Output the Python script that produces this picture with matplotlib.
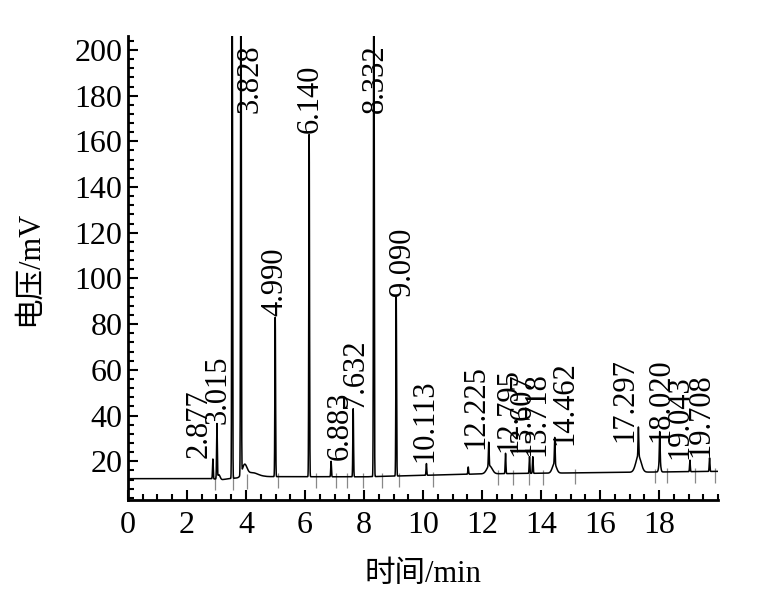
import numpy as np
import matplotlib
matplotlib.use("Agg")
import matplotlib.pyplot as plt
from matplotlib.ticker import MultipleLocator

# peak table (retention time / apex mV)
peak_t = [2.877, 3.015, 3.53, 3.828, 4.990, 6.140, 6.883, 7.632, 8.332, 9.090,
          10.113, 11.53, 12.225, 12.795, 13.607, 13.718, 14.462, 17.297, 18.020,
          19.043, 19.708]
peak_h = [21, 36, 260, 260, 83, 163, 20, 43, 260, 92,
          19, 17.5, 25, 23.5, 22, 22, 26.5, 28, 28, 20.5, 21.5]
labels = ["2.877", "3.015", "", "3.828", "4.990", "6.140", "6.883", "7.632", "8.332",
          "9.090", "10.113", "", "12.225", "12.795", "13.607", "13.718", "14.462",
          "17.297", "18.020", "19.043", "19.708"]

# broad humps under some peaks
hump_t = [3.08, 3.95, 4.2, 12.25, 14.45, 17.3, 18.02]
hump_h = [2.0, 5.0, 2.0, 3.5, 4.0, 7.0, 5.0]
hump_w = [0.04, 0.08, 0.2, 0.09, 0.07, 0.09, 0.03]

# baseline drift
base_t = [0, 2.8, 3.2, 3.5, 4.6, 8.0, 12.0, 20.0]
base_v = [12.4, 12.4, 12.0, 12.5, 13.3, 13.2, 14.5, 15.6]

# integration event marks on the baseline
mark_t = [2.95, 3.56, 4.03, 5.07, 6.36, 7.06, 7.42, 7.97, 8.62, 9.2, 10.35,
          12.55, 13.05, 13.6, 14.07, 15.15, 17.86, 18.27, 19.22, 19.9]

# label shifts (layout only)
label_dx = [-0.45, 0.05, 0, 0.3, 0, 0.03, 0.3, 0.07, 0.04, 0.22, -0.05, 0, -0.45,
            0.1, -0.25, 0.15, 0.35, -0.45, 0.03, -0.35, -0.3]

plt.rcParams["font.family"] = ["Liberation Serif", "Noto Sans CJK SC"]
plt.rcParams["font.size"] = 22

x = np.linspace(0, 20, 20001)
base = np.interp(x, base_t, base_v)
y = base.copy()
for t, h, w in zip(hump_t, hump_h, hump_w):
    y += h * np.exp(-0.5 * ((x - t) / w) ** 2)
for t, h in zip(peak_t, peak_h):
    b = np.interp(t, base_t, base_v)
    y += (h - b) * np.exp(-0.5 * ((x - t) / 0.012) ** 2)

fig = plt.figure(figsize=(7.64, 5.94), dpi=100)
ax = fig.add_axes([0.1675, 0.158, 0.7725, 0.781])

ax.vlines(mark_t, np.interp(mark_t, base_t, base_v) - 5,
          np.interp(mark_t, base_t, base_v) + 1.5, color="#888888", lw=0.9)
ax.plot(x, y, color="black", lw=1.1)

for t, h, lab, dx in zip(peak_t, peak_h, labels, label_dx):
    if lab:
        ax.text(t + dx, min(h, 172) + 0.5, lab, rotation=90, ha="center", va="bottom",
                fontsize=22)

ax.set_xlim(0, 20)
ax.set_ylim(3, 206)
ax.set_xticks(range(0, 19, 2))
ax.set_yticks(range(20, 201, 20))
ax.xaxis.set_minor_locator(MultipleLocator(0.5))
ax.yaxis.set_minor_locator(MultipleLocator(4))
ax.tick_params(which="both", direction="in", width=1.5, labelsize=23)
ax.tick_params(which="major", length=7)
ax.tick_params(which="minor", length=4)
ax.tick_params(axis="x", pad=8)
ax.tick_params(axis="y", pad=4)
for s in ["top", "right"]:
    ax.spines[s].set_visible(False)
for s in ["left", "bottom"]:
    ax.spines[s].set_linewidth(2)

ax.set_xlabel("时间/min", fontsize=22, labelpad=14)
ax.set_ylabel("电压/mV", fontsize=22, labelpad=22)

fig.savefig("out.png", dpi=100)
